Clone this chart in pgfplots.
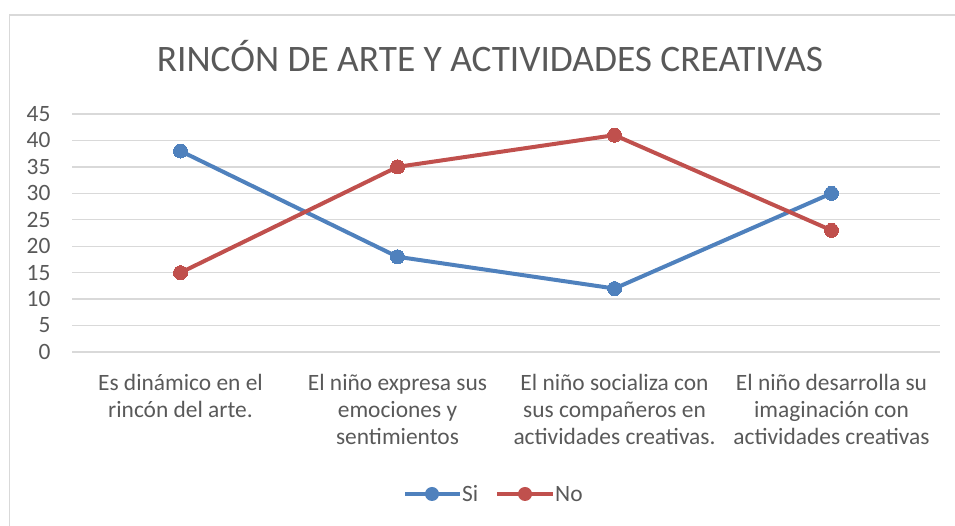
\documentclass[border=0pt]{standalone}
\usepackage{pgfplots}
\pgfplotsset{compat=1.18}
\usepackage{fontspec}
\setmainfont{Carlito}
\definecolor{siblue}{HTML}{4F81BD}
\definecolor{nored}{HTML}{C0504D}
\definecolor{gridc}{HTML}{D9D9D9}
\definecolor{txt}{HTML}{595959}
\definecolor{frame}{HTML}{D9D9D9}

\begin{document}
\begin{tikzpicture}[x=1bp,y=1bp]
\path[use as bounding box] (0,0) rectangle (955,526);
% chart frame (cropped on the right and bottom)
\draw[frame, line width=1.5bp] (9.5,0) -- (9.5,511) -- (955,511);
\begin{axis}[
    at={(72bp,174bp)}, anchor=south west,
    scale only axis,
    width=868bp, height=238bp,
    xmin=-0.5, xmax=3.5,
    ymin=0, ymax=45,
    ytick={0,5,...,45},
    xtick={0,1,2,3},
    xticklabels={
        {Es dinámico en el\\rincón del arte.},
        {El niño expresa sus\\emociones y\\sentimientos},
        {El niño socializa con\\sus compañeros en\\actividades creativas.},
        {El niño desarrolla su\\imaginación con\\actividades creativas}},
    axis line style={draw=none},
    major tick length=0pt,
    ymajorgrids,
    grid style={gridc, line width=1.3bp},
    tick label style={font=\fontsize{23.5}{27}\selectfont, text=txt},
    /pgf/number format/assume math mode=true,
    yticklabel style={anchor=east, xshift=-18bp},
    xticklabel style={align=center, anchor=north, yshift=-19bp},
    clip=false,
]
\addplot[siblue, line width=4bp, mark=*, mark size=7bp, mark options={fill=siblue, draw=siblue, line width=0pt}]
    coordinates {(0,38) (1,18) (2,12) (3,30)};
\addplot[nored, line width=4bp, mark=*, mark size=7bp, mark options={fill=nored, draw=nored, line width=0pt}]
    coordinates {(0,15) (1,35) (2,41) (3,23)};
\end{axis}
% title
\node[text=txt, font=\fontsize{37.5}{44}\selectfont] at (490,470) {RINCÓN DE ARTE Y ACTIVIDADES CREATIVAS};
% legend
\draw[siblue, line width=4bp] (405,32) -- (460,32);
\fill[siblue] (432,32) circle (7bp);
\node[text=txt, font=\fontsize{23.5}{27}\selectfont, anchor=west, inner sep=1bp] at (461,32) {Si};
\draw[nored, line width=4bp] (497,32) -- (553,32);
\fill[nored] (525,32) circle (7bp);
\node[text=txt, font=\fontsize{23.5}{27}\selectfont, anchor=west, inner sep=1bp] at (554,32) {No};
\end{tikzpicture}
\end{document}
